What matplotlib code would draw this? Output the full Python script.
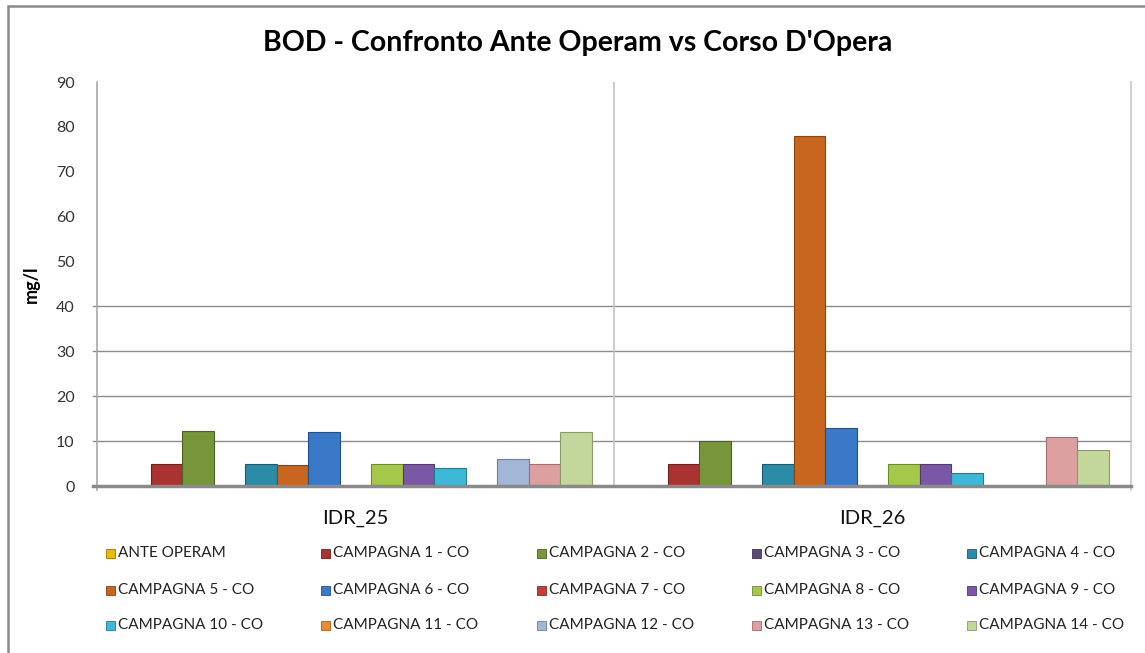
import matplotlib
matplotlib.use("Agg")
import matplotlib.pyplot as plt
from matplotlib.patches import Rectangle
import numpy as np

categories = ["IDR_25", "IDR_26"]
series_names = ["ANTE OPERAM"] + [f"CAMPAGNA {i} - CO" for i in range(1, 15)]
series_values = [
    [0, 0],      # ANTE OPERAM
    [5, 5],      # C1
    [12.3, 10],  # C2
    [0, 0],      # C3
    [5, 5],      # C4
    [4.7, 78],   # C5
    [12, 13],    # C6
    [0, 0],      # C7
    [5, 5],      # C8
    [5, 5],      # C9
    [4, 3],      # C10
    [0, 0],      # C11
    [6, 0],      # C12
    [5, 11],     # C13
    [12, 8],     # C14
]
colors = ["#F2B800", "#A93331", "#77953A", "#604A7B", "#2C8BA6", "#C8651E",
          "#3A78C8", "#C63E3C", "#A6C84A", "#7A58A6", "#3DB8D6", "#F08A2E",
          "#A2B6D8", "#DDA0A0", "#C3D69B"]
edge = ["#9a7a00", "#6e1f1e", "#4c6224", "#3e2f52", "#1c5b6d", "#8a4412",
        "#24508a", "#882a28", "#6f8a2c", "#4f3970", "#247c92", "#a85d1d",
        "#6f7f99", "#a06e6e", "#8a9a6c"]
yticks = [0, 10, 20, 30, 40, 50, 60, 70, 80, 90]
grid_levels = [10, 20, 30, 40]

W, H = 1145, 653
fig = plt.figure(figsize=(W / 100, H / 100), dpi=100)
plt.rcParams['font.family'] = ['Lato', 'DejaVu Sans']

ax = fig.add_axes([97 / W, 1 - 486 / H, (1131 - 97) / W, (486 - 82) / H])
n = len(series_names)
w = 0.913 / n
x = np.arange(len(categories))
for i, (vals, c, e) in enumerate(zip(series_values, colors, edge)):
    ax.bar(x + (i - (n - 1) / 2) * w, vals, width=w, color=c, edgecolor=e,
           linewidth=0.8, zorder=3)

ax.set_xlim(-0.5, 1.5)
ax.set_ylim(0, 90)
ax.set_yticks(yticks)
ax.set_yticklabels([str(t) for t in yticks], fontsize=11.5, color="#333333")
ax.tick_params(axis='y', length=0, pad=16)
ax.set_xticks(x)
ax.set_xticklabels(categories, fontsize=14.5, color="#111111")
ax.tick_params(axis='x', length=0, pad=17)
for s in ax.spines.values():
    s.set_visible(False)

for g in grid_levels:
    ax.plot([-0.507, 1.5], [g, g], color="#8c8c8c", lw=1.0, clip_on=False, zorder=1)
ax.plot([-0.5, -0.5], [-1, 90], color="#a8a8a8", lw=1.2, clip_on=False, zorder=1)
ax.plot([0.5, 0.5], [0, 90], color="#c4c4c4", lw=1.2, zorder=1)
ax.plot([1.5, 1.5], [-1, 90], color="#c8c8c8", lw=1.2, clip_on=False, zorder=1)
ax.plot([-0.507, 1.5], [0, 0], color="#8a8a8a", lw=2.5, clip_on=False, zorder=4)

ax.set_ylabel("mg/l", fontsize=13, fontweight="bold")
ax.yaxis.set_label_coords(-0.055, 0.5)

fig.text(578 / W, 1 - 43 / H, "BOD - Confronto Ante Operam vs Corso D'Opera",
         ha="center", va="center", fontsize=20.5, fontweight="bold", color="#000000")

# legend
col_x = [106, 321, 537, 752, 967]
row_y = [553, 590, 625]
for i, name in enumerate(series_names):
    r, cidx = divmod(i, 5)
    px, py = col_x[cidx], row_y[r]
    fig.patches.append(Rectangle((px / W, 1 - (py + 4.5) / H), 9 / W, 9 / H,
                                 transform=fig.transFigure, facecolor=colors[i],
                                 edgecolor=edge[i], lw=0.6))
    fig.text((px + 12) / W, 1 - py / H, name, ha="left", va="center",
             fontsize=11, color="#222222")

# outer frame
fig.patches.append(Rectangle((8 / W, -0.05), 1.1, 1 - 6 / H + 0.05,
                             transform=fig.transFigure, fill=False,
                             edgecolor="#8a8a8a", lw=1.8))

fig.savefig("out.png", dpi=100)
